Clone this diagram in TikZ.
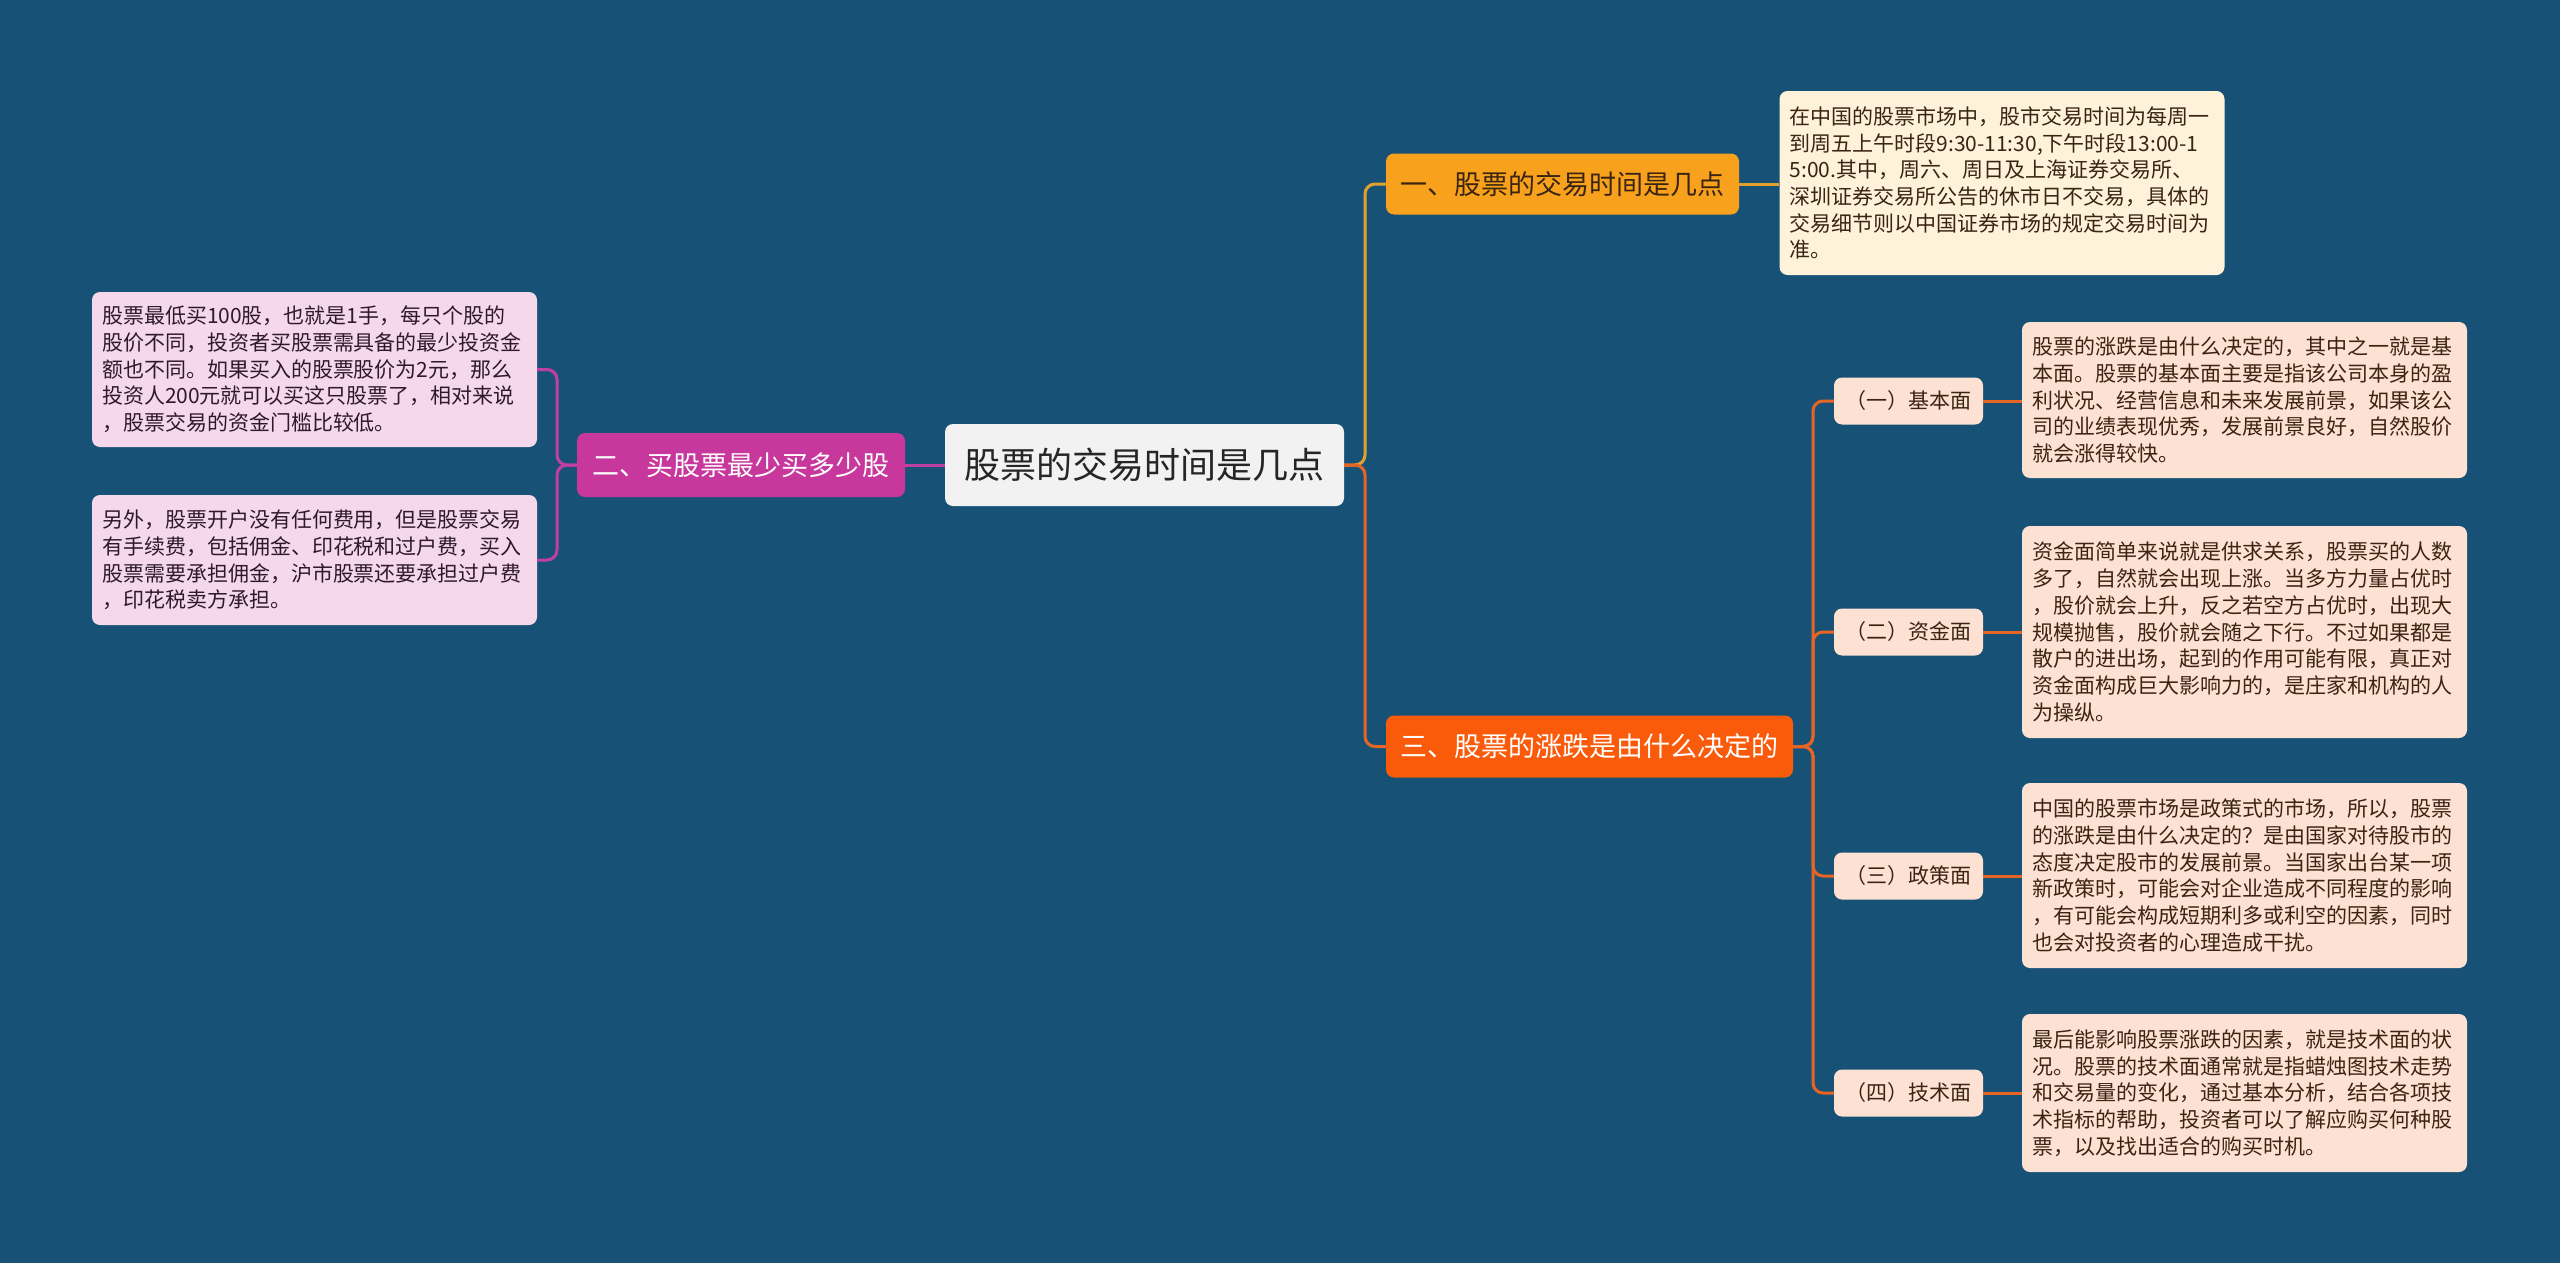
\documentclass[tikz,border=0pt]{standalone}
\usepackage{fontspec}
\setmainfont{Noto Sans CJK SC}
\definecolor{bgc}{HTML}{175276}
\definecolor{rootc}{HTML}{F2F2F2}
\definecolor{goldc}{HTML}{F8A11C}
\definecolor{goldline}{HTML}{E2A12E}
\definecolor{magc}{HTML}{C8379C}
\definecolor{magline}{HTML}{C23FA2}
\definecolor{redc}{HTML}{FA5B0B}
\definecolor{redline}{HTML}{E66424}
\definecolor{creamc}{HTML}{FEF2DA}
\definecolor{pinkc}{HTML}{F6D8EC}
\definecolor{peachc}{HTML}{FDE1D3}
\definecolor{darkt}{HTML}{3A2412}
\definecolor{darkp}{HTML}{2E1A28}
\tikzset{
  box/.style={rounded corners=8pt, inner xsep=10pt, inner ysep=0pt, anchor=center},
  rootbox/.style={box, fill=rootc, minimum width=399pt, minimum height=82pt, text=black!85, font=\fontsize{36}{40}\selectfont},
  brbox/.style={box, minimum height=62pt, font=\fontsize{27}{30}\selectfont},
  subbox/.style={box, fill=peachc, minimum width=149pt, minimum height=47pt, inner xsep=4pt, text=darkt, font=\fontsize{21}{24}\selectfont},
  detbox/.style={box, minimum width=445pt, text width=425pt, align=left, font=\fontsize{21}{26.7}\selectfont},
  conn/.style={line width=3pt, rounded corners=10pt},
}
\begin{document}
\begin{tikzpicture}[x=1pt,y=-1pt]
\fill[bgc] (0,0) rectangle (2560,1263);
\useasboundingbox (0,0) rectangle (2560,1263);

% nodes
\node[rootbox] (root) at (1144.5,465) {股票的交易时间是几点};
\node[brbox, fill=goldc, text=darkt, minimum width=353pt, minimum height=61pt] (b1) at (1562.5,184) {一、股票的交易时间是几点};
\node[brbox, fill=magc, text=white, minimum width=328pt, minimum height=64pt] (b2) at (741,465) {二、买股票最少买多少股};
\node[brbox, fill=redc, text=white, minimum width=407pt] (b3) at (1589.5,746.5) {三、股票的涨跌是由什么决定的};

\node[detbox, fill=creamc, text=darkt, minimum height=184pt] (d1) at (2002,183) {在中国的股票市场中，股市交易时间为每周一\\到周五上午时段9:30-11:30,下午时段13:00-1\\5:00.其中，周六、周日及上海证券交易所、\\深圳证券交易所公告的休市日不交易，具体的\\交易细节则以中国证券市场的规定交易时间为\\准。};

\node[detbox, fill=pinkc, text=darkp, minimum height=155pt] (l1) at (314.5,369.5) {股票最低买100股，也就是1手，每只个股的\\股价不同，投资者买股票需具备的最少投资金\\额也不同。如果买入的股票股价为2元，那么\\投资人200元就可以买这只股票了，相对来说\\，股票交易的资金门槛比较低。};
\node[detbox, fill=pinkc, text=darkp, minimum height=130pt] (l2) at (314.5,560) {另外，股票开户没有任何费用，但是股票交易\\有手续费，包括佣金、印花税和过户费，买入\\股票需要承担佣金，沪市股票还要承担过户费\\，印花税卖方承担。};

\node[subbox] (s1) at (1908.5,401) {（一）基本面};
\node[subbox] (s2) at (1908.5,632) {（二）资金面};
\node[subbox] (s3) at (1908.5,876) {（三）政策面};
\node[subbox] (s4) at (1908.5,1093) {（四）技术面};

\node[detbox, fill=peachc, text=darkt, minimum height=156pt] (r1) at (2244.5,400) {股票的涨跌是由什么决定的，其中之一就是基\\本面。股票的基本面主要是指该公司本身的盈\\利状况、经营信息和未来发展前景，如果该公\\司的业绩表现优秀，发展前景良好，自然股价\\就会涨得较快。};
\node[detbox, fill=peachc, text=darkt, minimum height=212pt] (r2) at (2244.5,632) {资金面简单来说就是供求关系，股票买的人数\\多了，自然就会出现上涨。当多方力量占优时\\，股价就会上升，反之若空方占优时，出现大\\规模抛售，股价就会随之下行。不过如果都是\\散户的进出场，起到的作用可能有限，真正对\\资金面构成巨大影响力的，是庄家和机构的人\\为操纵。};
\node[detbox, fill=peachc, text=darkt, minimum height=185pt] (r3) at (2244.5,875.5) {中国的股票市场是政策式的市场，所以，股票\\的涨跌是由什么决定的？是由国家对待股市的\\态度决定股市的发展前景。当国家出台某一项\\新政策时，可能会对企业造成不同程度的影响\\，有可能会构成短期利多或利空的因素，同时\\也会对投资者的心理造成干扰。};
\node[detbox, fill=peachc, text=darkt, minimum height=158pt] (r4) at (2244.5,1093) {最后能影响股票涨跌的因素，就是技术面的状\\况。股票的技术面通常就是指蜡烛图技术走势\\和交易量的变化，通过基本分析，结合各项技\\术指标的帮助，投资者可以了解应购买何种股\\票，以及找出适合的购买时机。};

% junction coordinates
\coordinate (tr) at (1365,465);
\coordinate (trL) at (557,465);
\coordinate (tr3) at (1813,746.5);

% connectors
\draw[conn, goldline] (root.east) -- (tr) |- (b1.west);
\draw[conn, redline] (root.east) -- (tr) |- (b3.west);
\draw[conn, goldline] (b1.east) -- (d1.west |- b1.east);
\draw[conn, magline] (root.west) -- (b2.east);
\draw[conn, magline] (b2.west) -- (trL) |- (l1.east);
\draw[conn, magline] (b2.west) -- (trL) |- (l2.east);
\draw[conn, redline] (b3.east) -- (tr3) |- (s1.west);
\draw[conn, redline] (b3.east) -- (tr3) |- (s2.west);
\draw[conn, redline] (b3.east) -- (tr3) |- (s3.west);
\draw[conn, redline] (b3.east) -- (tr3) |- (s4.west);
\draw[conn, redline] (s1.east) -- (r1.west |- s1.east);
\draw[conn, redline] (s2.east) -- (r2.west |- s2.east);
\draw[conn, redline] (s3.east) -- (r3.west |- s3.east);
\draw[conn, redline] (s4.east) -- (r4.west |- s4.east);
\end{tikzpicture}
\end{document}
